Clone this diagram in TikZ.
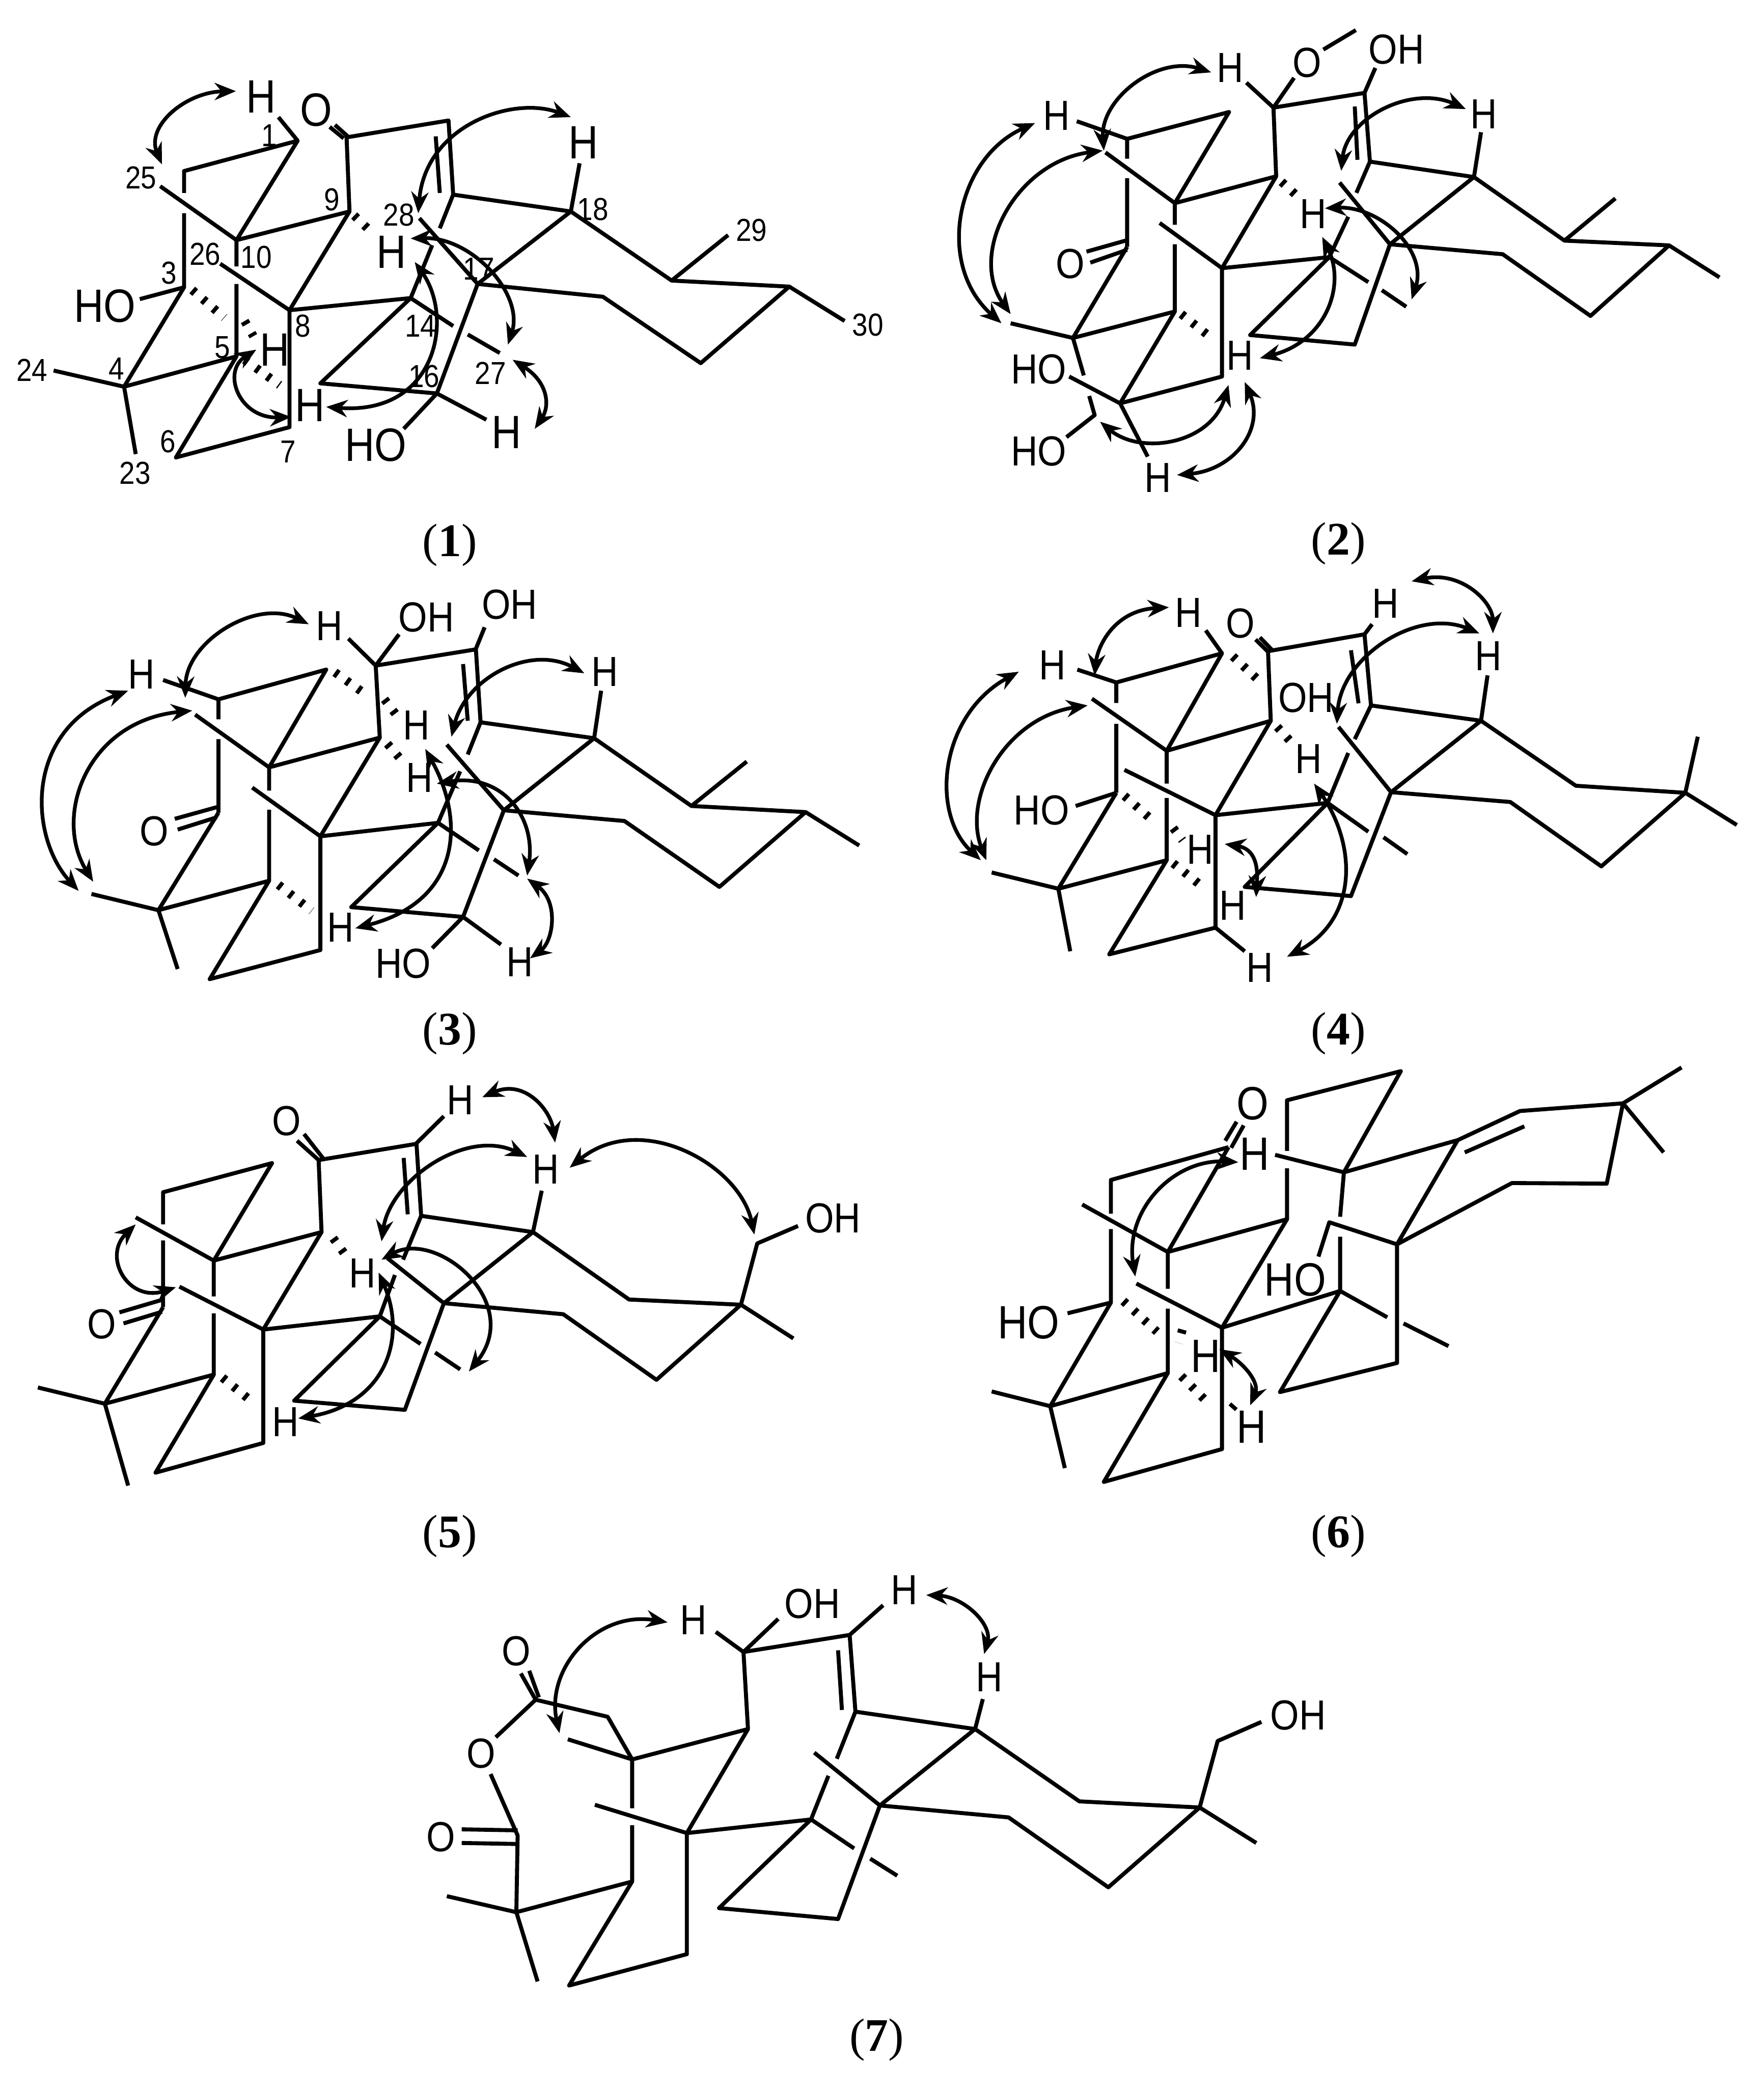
\documentclass[tikz,border=0pt]{standalone}
\usepackage{fontspec}
\setmainfont{Liberation Serif}
\setsansfont{Liberation Sans}[FakeStretch=0.88]
\usetikzlibrary{arrows.meta}
\tikzset{
	% bond
	cstbond/.style   ={line width=0.03cm, line join=round},
	csthash/.style   ={line width=0.065cm, dash pattern=on 0.03cm off 0.075cm},
	% arrow
	cstlra/.style    ={{Stealth[length=0.16cm,width=0.13cm]}-{Stealth[length=0.16cm,width=0.13cm]}, line width=0.028cm},
	% node
	cstatom/.style   ={font=\sffamily\fontsize{9}{9}\selectfont, inner sep=0pt},
	cstatoml/.style  ={font=\sffamily\fontsize{10}{10}\selectfont, inner sep=0pt},
	cstnum/.style    ={font=\sffamily\fontsize{6.8}{6.8}\selectfont, inner sep=0pt},
	cstcap/.style    ={font=\fontsize{10}{10}\selectfont, inner sep=0pt}
}
\begin{document}
\begin{tikzpicture}
	\useasboundingbox (0,0) rectangle (13.26,-15.68);
	% compound 1
	\begin{scope}[shift={(0,-0.3613)},x=.0043776cm,y=-.0025344cm]
		\draw[cstbond] (478,205)--(511,275)--(316,365)--(316,430) (316,490)--(316,710)--(213,1005)--(406,915)--(302,1215)--(497,1125)--(497,778)--(705,742)--(550,995)--(750,1025)--(820,700)--(980,485)--(778,435)--(770,215)--(595,265)--(600,485)--(406,570)--(511,275);
		\draw[cstbond] (275,410)--(406,570)--(406,648) (406,700)--(406,915) (600,485)--(497,778)--(378,640);
		\draw[cstbond] (575,228)--(597,262) (566,234)--(590,268) (748,262)--(755,430);
		\draw[cstbond] (980,485)--(995,342) (778,435)--(755,535) (742,585)--(705,742);
		\draw[cstbond] (720,505)--(820,700)--(1035,738)--(1203,935)--(1355,708)--(1153,690)--(980,485);
		\draw[cstbond] (1153,690)--(1250,555) (1355,708)--(1450,810);
		\draw[cstbond] (705,742)--(778,825) (803,850)--(858,905);
		\draw[cstbond] (750,1025)--(693,1130) (750,1025)--(835,1103);
		\draw[cstbond] (213,1005)--(92,957) (213,1005)--(233,1205) (316,710)--(240,745);
		\draw[csthash] (608,497)--(640,550) (330,718)--(385,800) (420,810)--(435,855) (420,925)--(480,1000);
		\node[cstatoml] (oneh1) at (448,145) {H};
		\node[cstatoml] (oneo) at (543,183) {O};
		\node[cstatoml] (oneh18) at (1002,280) {H};
		\node[cstatoml] (oneh9) at (672,605) {H};
		\node[cstatoml] (oneoh3) at (180,765) {HO};
		\node[cstatoml] (oneh5) at (472,895) {H};
		\node[cstatoml] (oneh7) at (532,1060) {H};
		\node[cstatoml] (oneoh16) at (645,1178) {HO};
		\node[cstatoml] (oneh16) at (870,1140) {H};
		\foreach \n/\x/\y in {25/242/385,1/462/260,9/570/450,28/685/495,18/1018/478,29/1290/540,30/1490/822,26/352/612,10/440/620,3/290/668,17/822/655,14/722/825,8/520/825,5/382/888,4/200/952,24/55/955,16/728/975,27/842/965,6/288/1168,7/495/1198,23/232/1262}
			\node[cstnum] (onen\n) at (\x,\y) {\n};
		\draw[cstlra] (405,128) .. controls (320,130) and (250,230) .. (278,345);
		\draw[cstlra] (980,205) .. controls (880,140) and (730,230) .. (718,490);
		\draw[cstlra] (705,565) .. controls (810,560) and (900,730) .. (872,880);
		\draw[cstlra] (712,635) .. controls (780,800) and (750,1090) .. (560,1065);
		\draw[cstlra] (440,895) .. controls (380,960) and (410,1100) .. (500,1095);
		\draw[cstlra] (880,925) .. controls (940,990) and (945,1060) .. (918,1130);
		\node[cstcap] (cap1) at (772,1475) {(\textbf{1})};
	\end{scope}
	% compound 2
	\begin{scope}[shift={(6.864,0)},x=.0040781cm,y=-.0027648cm]
		\draw[cstbond] (615,225)--(665,293)--(703,212) (757,135)--(817,82) (833,253)--(853,185);
		\draw[cstbond] (665,293)--(833,253)--(843,440)--(1035,482)--(1048,360) (815,290)--(820,435);
		\draw[cstbond] (665,293)--(670,480)--(483,553)--(583,305)--(395,378)--(395,432) (395,485)--(395,672);
		\draw[cstbond] (302,330)--(395,378) (355,415)--(483,553)--(483,612) (483,665)--(483,848);
		\draw[cstbond] (670,480)--(570,730)--(768,700)--(622,912)--(815,938)--(880,665)--(1035,482);
		\draw[cstbond] (843,440)--(818,525) (803,590)--(768,700)--(840,768) (865,790)--(910,835);
		\draw[cstbond] (787,497)--(880,665)--(1088,692)--(1250,860)--(1395,668)--(1202,655)--(1035,482);
		\draw[cstbond] (1202,655)--(1296,540) (1395,668)--(1488,755);
		\draw[cstbond] (455,607)--(570,730)--(570,1025)--(382,1098)--(483,848)--(295,920)--(395,672);
		\draw[cstbond] (320,685)--(392,655) (327,715)--(395,680);
		\draw[cstbond] (295,920)--(180,880) (295,920)--(315,1022) (288,1025)--(382,1098)--(433,1243);
		\draw[cstbond] (325,1078)--(335,1130)--(283,1190);
		\draw[csthash] (680,495)--(712,538) (495,855)--(555,925);
		\node[cstatom] (twoh1) at (585,185) {H};
		\node[cstatom] (twoo1) at (727,170) {O};
		\node[cstatom] (twooh) at (892,135) {OH};
		\node[cstatom] (twoh18) at (1053,310) {H};
		\node[cstatom] (twoh2) at (265,315) {H};
		\node[cstatom] (twoh9) at (738,583) {H};
		\node[cstatom] (twoo2) at (290,718) {O};
		\node[cstatom] (twoh5) at (603,968) {H};
		\node[cstatom] (twooh2) at (232,1005) {HO};
		\node[cstatom] (twooh3) at (232,1228) {HO};
		\node[cstatom] (twoh6) at (452,1300) {H};
		\draw[cstlra] (550,197) .. controls (450,150) and (345,270) .. (352,410);
		\draw[cstlra] (1020,297) .. controls (920,230) and (800,320) .. (790,465);
		\draw[cstlra] (225,335) .. controls (80,430) and (40,720) .. (163,880);
		\draw[cstlra] (350,410) .. controls (190,440) and (100,690) .. (180,855);
		\draw[cstlra] (760,567) .. controls (860,560) and (950,680) .. (920,815);
		\draw[cstlra] (755,645) .. controls (800,780) and (760,930) .. (640,975);
		\draw[cstlra] (582,1048) .. controls (550,1210) and (420,1240) .. (345,1148);
		\draw[cstlra] (612,1040) .. controls (650,1170) and (590,1280) .. (487,1293);
		\node[cstcap] (cap2) at (785,1480) {(\textbf{2})};
	\end{scope}
	% compound 3
	\begin{scope}[shift={(0,-4.335)},x=.0043776cm,y=-.002304cm]
		\draw[cstbond] (598,202)--(645,290)--(685,188) (817,235)--(832,165);
		\draw[cstbond] (645,290)--(817,237)--(825,475)--(1020,527)--(1032,372) (795,285)--(803,470);
		\draw[cstbond] (645,290)--(652,525)--(462,622)--(560,303)--(375,400)--(375,465) (375,530)--(375,770);
		\draw[cstbond] (280,337)--(375,400) (335,450)--(462,622)--(462,698) (462,760)--(462,990);
		\draw[cstbond] (652,525)--(550,847)--(752,803)--(603,1078)--(795,1110)--(865,762)--(1020,527);
		\draw[cstbond] (825,475)--(803,580) (790,635)--(752,803)--(822,893) (848,922)--(890,975);
		\draw[cstbond] (767,548)--(865,762)--(1072,797)--(1235,1012)--(1383,768)--(1187,748)--(1020,527);
		\draw[cstbond] (1187,748)--(1282,603) (1383,768)--(1475,877);
		\draw[cstbond] (433,688)--(550,847)--(550,1218)--(360,1313)--(462,992)--(272,1088)--(375,770);
		\draw[cstbond] (300,790)--(372,752) (305,825)--(372,785);
		\draw[cstbond] (272,1088)--(157,1035) (272,1088)--(305,1280);
		\draw[cstbond] (795,1110)--(742,1212) (795,1110)--(860,1200);
		\draw[csthash] (575,312)--(625,380) (660,400)--(680,450) (665,545)--(690,600) (478,1005)--(535,1090);
		\node[cstatom] (threeh1) at (565,160) {H};
		\node[cstatom] (threeoh1) at (732,133) {OH};
		\node[cstatom] (threeoh2) at (875,90) {OH};
		\node[cstatom] (threeh18) at (1038,310) {H};
		\node[cstatom] (threeh2) at (243,318) {H};
		\node[cstatom] (threeh9) at (715,485) {H};
		\node[cstatom] (threeh10) at (720,655) {H};
		\node[cstatom] (threeo) at (265,830) {O};
		\node[cstatom] (threeh5) at (585,1145) {H};
		\node[cstatom] (threeoh3) at (692,1262) {HO};
		\node[cstatom] (threeh16) at (892,1258) {H};
		\draw[cstlra] (530,155) .. controls (440,70) and (320,210) .. (318,395);
		\draw[cstlra] (1003,315) .. controls (910,220) and (800,330) .. (775,522);
		\draw[cstlra] (220,372) .. controls (40,500) and (50,850) .. (135,1025);
		\draw[cstlra] (330,437) .. controls (150,470) and (90,780) .. (160,995);
		\draw[cstlra] (750,675) .. controls (860,640) and (920,780) .. (905,975);
		\draw[cstlra] (730,562) .. controls (800,800) and (790,1060) .. (610,1147);
		\draw[cstlra] (905,985) .. controls (960,1060) and (950,1190) .. (910,1245);
		\node[cstcap] (cap3) at (772,1490) {(\textbf{3})};
	\end{scope}
	% compound 4
	\begin{scope}[shift={(6.864,-4.335)},x=.0040781cm,y=-.002304cm]
		\draw[cstbond] (540,175)--(570,250)--(375,345)--(375,412) (375,480)--(375,705);
		\draw[cstbond] (303,303)--(375,345) (570,250)--(468,568)--(660,470)--(655,245) (330,398)--(468,568)--(468,675) (468,722)--(468,925);
		\draw[cstbond] (660,470)--(558,778)--(765,738)--(612,1012)--(808,1042)--(882,703)--(1048,470);
		\draw[cstbond] (655,245)--(632,205) (663,240)--(640,198);
		\draw[cstbond] (655,243)--(833,188)--(845,420)--(1048,470)--(1060,322) (808,240)--(822,413) (833,188)--(847,155);
		\draw[cstbond] (845,420)--(815,530) (803,575)--(765,738)--(840,832) (868,850)--(912,905);
		\draw[cstbond] (785,490)--(882,703)--(1102,735)--(1270,945)--(1425,705)--(1223,682)--(1048,470);
		\draw[cstbond] (1425,705)--(1448,522) (1425,705)--(1520,810);
		\draw[cstbond] (390,630)--(558,778)--(558,1145)--(362,1232)--(468,925)--(268,1018)--(375,705);
		\draw[cstbond] (268,1018)--(145,965) (268,1018)--(290,1222) (375,705)--(300,748) (558,1145)--(612,1222);
		\draw[csthash] (590,260)--(645,350) (672,490)--(703,550) (390,715)--(445,800) (480,820)--(497,860) (480,935)--(540,1020);
		\node[cstatom] (fourh1) at (508,118) {H};
		\node[cstatom] (fouro) at (604,153) {O};
		\node[cstatom] (fourh12) at (872,88) {H};
		\node[cstatom] (fourh18) at (1062,258) {H};
		\node[cstatom] (fourh2) at (257,288) {H};
		\node[cstatom] (fouroh) at (725,395) {OH};
		\node[cstatom] (fourh9) at (730,595) {H};
		\node[cstatom] (fouroh3) at (237,762) {HO};
		\node[cstatom] (fourh5) at (530,890) {H};
		\node[cstatom] (fourh7) at (590,1072) {H};
		\node[cstatom] (fourh6) at (640,1275) {H};
		\draw[cstlra] (472,100) .. controls (370,110) and (340,230) .. (335,322);
		\draw[cstlra] (195,310) .. controls (50,450) and (30,770) .. (125,925);
		\draw[cstlra] (322,420) .. controls (170,460) and (90,720) .. (135,925);
		\draw[cstlra] (920,15) .. controls (1010,-20) and (1070,80) .. (1070,185);
		\draw[cstlra] (1045,185) .. controls (930,100) and (790,260) .. (782,480);
		\draw[cstlra] (740,675) .. controls (820,880) and (820,1120) .. (690,1240);
		\draw[cstlra] (575,872) .. controls (640,890) and (635,980) .. (633,1045);
		\node[cstcap] (cap4) at (785,1490) {(\textbf{4})};
	\end{scope}
	% compound 5
	\begin{scope}[shift={(0,-7.948)},x=.0043776cm,y=-.002304cm]
		\draw[cstbond] (762,192)--(715,280) (547,335)--(510,272) (555,330)--(522,250);
		\draw[cstbond] (547,335)--(715,282)--(723,517)--(915,570)--(930,435) (693,328)--(700,512);
		\draw[cstbond] (547,335)--(552,570)--(367,663)--(467,345)--(280,440)--(280,545) (280,597)--(280,815);
		\draw[cstbond] (233,522)--(367,663)--(367,780) (367,835)--(367,1035);
		\draw[cstbond] (552,570)--(452,888)--(652,845)--(505,1120)--(695,1150)--(762,802)--(915,570);
		\draw[cstbond] (723,517)--(692,660) (678,710)--(652,845)--(722,935) (747,963)--(790,1018);
		\draw[cstbond] (665,655)--(762,802)--(967,838)--(1127,1052)--(1272,807)--(1080,790)--(915,570);
		\draw[cstbond] (1370,550)--(1300,607)--(1272,807)--(1362,917);
		\draw[cstbond] (308,748)--(452,888)--(452,1258)--(267,1355)--(367,1035)--(180,1130)--(280,815);
		\draw[cstbond] (205,832)--(280,790) (212,868)--(278,830);
		\draw[cstbond] (180,1130)--(65,1077) (180,1130)--(220,1397);
		\draw[csthash] (572,590)--(595,650) (382,1045)--(437,1130);
		\node[cstatom] (fiveh12) at (790,140) {H};
		\node[cstatom] (fiveo1) at (492,208) {O};
		\node[cstatom] (fiveh18) at (937,365) {H};
		\node[cstatom] (fiveoh) at (1430,525) {OH};
		\node[cstatom] (fiveh9) at (622,705) {H};
		\node[cstatom] (fiveo2) at (175,870) {O};
		\node[cstatom] (fiveh5) at (490,1190) {H};
		\draw[cstlra] (828,130) .. controls (900,70) and (945,170) .. (953,278);
		\draw[cstlra] (905,325) .. controls (800,230) and (670,400) .. (655,600);
		\draw[cstlra] (978,360) .. controls (1100,170) and (1270,350) .. (1295,578);
		\draw[cstlra] (655,660) .. controls (750,560) and (900,800) .. (805,1025);
		\draw[cstlra] (233,545) .. controls (175,650) and (220,800) .. (302,750);
		\draw[cstlra] (650,702) .. controls (700,920) and (660,1130) .. (512,1178);
		\node[cstcap] (cap5) at (772,1563) {(\textbf{5})};
	\end{scope}
	% compound 6
	\begin{scope}[shift={(6.864,-7.948)},x=.0040781cm,y=-.002304cm]
		\draw[cstbond] (576,272)--(597,210) (587,295)--(610,222);
		\draw[cstbond] (582,293)--(365,400)--(365,510) (365,560)--(365,800)--(253,1138)--(470,1030)--(352,1385)--(570,1278)--(570,882)--(788,762)--(677,1092)--(893,997)--(893,610);
		\draw[cstbond] (582,293)--(470,635)--(690,528)--(690,362) (690,305)--(690,140)--(900,45)--(795,375)--(1005,270)--(1120,175)--(1310,150)--(1280,412)--(1105,410)--(893,610)--(1005,270);
		\draw[cstbond] (312,480)--(470,635)--(470,755) (470,820)--(470,1030) (690,528)--(570,882)--(412,738);
		\draw[cstbond] (668,318)--(795,375)--(788,520) (1018,310)--(1128,225);
		\draw[cstbond] (1310,150)--(1418,33) (1310,150)--(1385,310);
		\draw[cstbond] (748,650)--(768,538)--(893,610) (788,585)--(788,762)--(875,848) (905,868)--(988,942);
		\draw[cstbond] (253,1138)--(145,1090) (253,1138)--(280,1340) (365,800)--(285,835);
		\draw[csthash] (388,795)--(450,895) (497,888)--(490,932) (495,1040)--(540,1120) (593,1135)--(583,1155);
		\node[cstatoml] (sixo) at (627,150) {O};
		\node[cstatoml] (sixh9) at (630,315) {H};
		\node[cstatoml] (sixoh2) at (705,725) {HO};
		\node[cstatoml] (sixoh3) at (213,865) {HO};
		\node[cstatoml] (sixh5) at (540,975) {H};
		\node[cstatoml] (sixh7) at (625,1205) {H};
		\draw[cstlra] (600,342) .. controls (480,330) and (390,500) .. (410,715);
		\draw[cstlra] (565,952) .. controls (610,1000) and (640,1060) .. (622,1135);
		\node[cstcap] (cap6) at (785,1563) {(\textbf{6})};
	\end{scope}
	% compound 7
	\begin{scope}[shift={(2.89,-11.669)},x=.0048385cm,y=-.0025575cm]
		\draw[cstbond] (515,233)--(558,292)--(612,195) (558,292)--(723,242)--(775,155);
		\draw[cstbond] (723,242)--(732,467)--(918,518)--(930,430) (705,287)--(711,462);
		\draw[cstbond] (558,292)--(565,518)--(385,607)--(347,482)--(235,432)--(173,542);
		\draw[cstbond] (235,432)--(212,355) (240,425)--(225,347);
		\draw[cstbond] (165,650)--(207,830)--(205,1055) (120,812)--(207,815) (120,852)--(207,855);
		\draw[cstbond] (285,548)--(385,607)--(385,750) (385,800)--(385,965);
		\draw[cstbond] (565,518)--(470,823)--(663,783)--(520,1043)--(705,1075)--(770,742)--(918,518);
		\draw[cstbond] (327,740)--(470,823)--(470,1178)--(287,1270)--(385,965)--(205,1055);
		\draw[cstbond] (205,1055)--(97,1008) (205,1055)--(238,1258);
		\draw[cstbond] (732,467)--(703,605) (690,655)--(663,783)--(730,868) (755,898)--(797,948);
		\draw[cstbond] (668,587)--(770,742)--(970,777)--(1125,982)--(1267,748)--(1080,730)--(918,518);
		\draw[cstbond] (1363,497)--(1295,553)--(1267,748)--(1355,852);
		\node[cstatom] (sevenh1) at (480,198) {H};
		\node[cstatom] (sevenoh1) at (665,150) {OH};
		\node[cstatom] (sevenh12) at (808,110) {H};
		\node[cstatom] (sevenh18) at (940,365) {H};
		\node[cstatom] (sevenoh2) at (1420,478) {OH};
		\node[cstatom] (seveno1) at (205,290) {O};
		\node[cstatom] (seveno2) at (150,590) {O};
		\node[cstatom] (seveno3) at (88,835) {O};
		\draw[cstlra] (440,205) .. controls (330,170) and (250,340) .. (272,530);
		\draw[cstlra] (842,125) .. controls (900,130) and (945,210) .. (932,298);
		\node[cstcap] (cap7) at (765,1430) {(\textbf{7})};
	\end{scope}
\end{tikzpicture}
\end{document}
